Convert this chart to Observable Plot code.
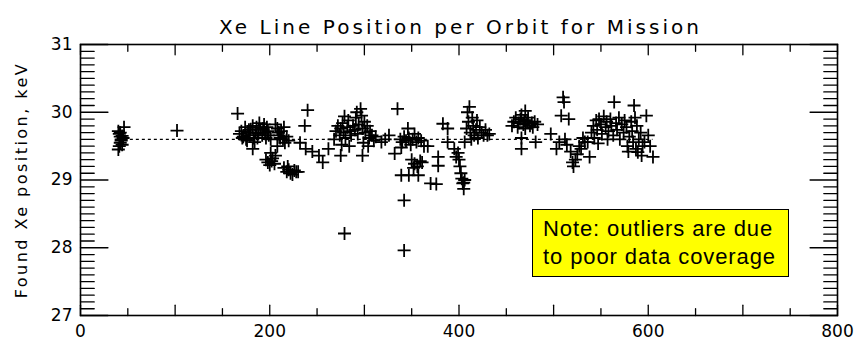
<!DOCTYPE html>
<html>
<head>
<meta charset="utf-8">
<script src="https://cdn.jsdelivr.net/npm/d3@7"></script>
<script src="https://cdn.jsdelivr.net/npm/@observablehq/plot@0.6"></script>
<style>
  body { margin: 0; background: #fff; }
  #wrap { position: relative; width: 858px; height: 343px; }
  #note { position: absolute; left: 532px; top: 209px; width: 257px; height: 68px;
    background: #ffff00; border: 1px solid #000; font-family: "Liberation Sans", Arial, sans-serif;
    font-size: 22px; letter-spacing: 0.9px; line-height: 28.3px; padding: 4.6px 0 0 10px; box-sizing: border-box; color: #000; white-space: nowrap; }
</style>
</head>
<body>
<div id="wrap"><div id="note">Note: outliers are due<br>to poor data coverage</div></div>
<script>
const title = "Xe Line Position per Orbit for Mission";
const yLabel = "Found Xe position, keV";
const xTicks = [0, 200, 400, 600, 800];
const yTicks = [27, 28, 29, 30, 31];
const meanXe = 29.6;

const orbit = [
  40,41,42,43,44,42,45,41,44,43,46,40,42,
  102,
  166,168,170,172,174,175,177,179,180,182,183,185,186,188,189,190,192,193,195,196,198,199,201,176,184,182,171,178,187,194,197,
  206,208,209,210,211,212,214,215,216,218,220,
  196,198,200,202,203,205,206,201,208,
  215,218,220,222,224,226,228,219,230,
  232,240,237,238,245,252,256,262,
  268,270,272,274,275,277,278,280,282,283,285,286,288,290,291,293,294,296,297,298,300,301,303,305,306,308,310,312,276,284,299,292,279,
  275,298,304,318,322,326,
  335,332,338,340,342,344,346,347,349,351,353,355,357,360,363,339,350,353,356,359,352,361,339,347,357,370,367,378,378,383,388,388,395,397,400,401,402,403,404,405,399,406,406,
  408,410,411,412,414,415,416,418,419,420,422,424,426,428,430,413,409,432,
  279,342,342,376,405,
  456,458,460,462,463,465,466,468,469,470,472,473,475,477,478,480,483,470,466,481,466,
  497,503,506,508,510,511,516,512,514,518,520,521,523,525,527,529,531,533,536,538,540,542,543,545,546,548,550,551,553,555,556,558,560,561,563,564,566,567,569,570,572,574,575,577,578,579,580,582,583,585,586,588,589,590,592,593,594,596,598,600,602,605,584,587,557,547
];
const xePos = [
  29.45,29.5,29.55,29.6,29.65,29.7,29.62,29.68,29.52,29.58,29.78,29.72,29.64,
  29.73,
  29.98,29.68,29.72,29.64,29.78,29.6,29.7,29.66,29.75,29.8,29.62,29.7,29.78,29.68,29.84,29.74,29.66,29.76,29.7,29.62,29.72,29.66,29.6,29.58,29.56,29.46,29.62,29.74,29.62,29.82,29.78,
  29.82,29.76,29.7,29.66,29.62,29.72,29.6,29.78,29.55,29.64,29.58,
  29.3,29.26,29.22,29.28,29.32,29.24,29.36,29.4,29.5,
  29.18,29.12,29.15,29.1,29.08,29.14,29.12,29.2,29.12,
  29.55,30.03,29.8,29.46,29.42,29.36,29.26,29.46,
  29.6,29.72,29.8,29.66,29.76,29.84,29.7,29.62,29.78,29.88,29.72,29.66,29.8,29.74,29.92,29.68,29.82,30.05,29.95,29.76,29.86,29.7,29.8,29.62,29.72,29.66,29.58,29.64,29.52,29.5,29.55,30.0,29.94,
  29.36,29.36,29.5,29.56,29.6,29.66,
  30.05,29.39,29.6,29.56,29.64,29.58,29.76,29.62,29.52,29.6,29.68,29.56,29.62,29.58,29.5,29.48,29.3,29.24,29.2,29.28,29.18,29.26,29.07,29.07,29.07,28.95,29.5,29.34,29.21,29.83,29.76,29.56,29.46,29.34,29.3,29.2,29.1,29.02,28.95,28.87,29.4,29.56,29.0,
  29.76,29.86,30.08,29.7,29.92,29.8,29.66,29.74,29.88,29.62,29.78,29.7,29.66,29.74,29.66,29.6,30.0,29.68,
  28.21,27.96,28.70,28.94,28.96,
  29.8,29.86,29.92,29.78,29.84,29.9,29.96,29.82,29.88,29.76,29.86,29.92,29.8,29.84,29.78,29.86,29.82,30.02,29.46,29.56,29.62,
  29.68,29.46,29.56,29.95,30.22,30.15,29.9,29.6,29.52,29.42,29.26,29.2,29.3,29.38,29.5,29.46,29.62,29.56,29.56,29.34,29.7,29.8,29.62,29.88,29.74,29.9,29.82,29.68,29.94,29.78,29.86,29.72,29.9,29.8,29.66,30.15,29.84,29.74,29.92,29.6,29.82,29.7,29.88,29.78,29.5,29.42,29.64,29.86,29.72,30.1,29.92,29.8,29.41,29.6,29.7,29.36,29.5,29.56,29.95,29.66,29.5,29.34,29.56,29.46,29.6,29.54
];

const points = orbit.map((o, i) => ({orbit: o, xe: xePos[i]}));

const plusSymbol = {
  draw(context, size) {
    const r = Math.sqrt(size / Math.PI);
    context.moveTo(-r, 0); context.lineTo(r, 0);
    context.moveTo(0, -r); context.lineTo(0, r);
  }
};
const lineShape = { draw(context, l) { context.moveTo(0, 0); context.lineTo(0, -l); } };

const yMinor = d3.range(27, 31.0001, 0.1).map(v => Math.round(v * 10) / 10);
const xMinor = d3.range(0, 801, 50);
const yLen = v => (Math.abs(v - Math.round(v)) < 1e-6 ? 16 : 8);
const xLen = v => (v % 100 === 0 ? 6 : 4);

const chart = Plot.plot({
  width: 858,
  height: 343,
  marginLeft: 80,
  marginRight: 21,
  marginTop: 44,
  marginBottom: 28,
  style: { fontFamily: "DejaVu Sans", background: "#fff", color: "#000", overflow: "visible" },
  x: { domain: [0, 800] },
  y: { domain: [27, 31] },
  marks: [
    Plot.axisY({ ticks: yTicks, tickSize: 0, tickPadding: 8, fontSize: 17, tickFormat: "d", label: null }),
    Plot.axisX({ ticks: xTicks, tickSize: 0, tickPadding: 9, fontSize: 17, tickFormat: "d", label: null }),
    Plot.vector(yMinor, { y: d => d, frameAnchor: "left", rotate: 90, anchor: "start", length: yLen, shape: lineShape, stroke: "#000", strokeWidth: 1.3 }),
    Plot.vector(yMinor, { y: d => d, frameAnchor: "right", rotate: 270, anchor: "start", length: yLen, shape: lineShape, stroke: "#000", strokeWidth: 1.3 }),
    Plot.vector(xMinor, { x: d => d, frameAnchor: "bottom", rotate: 0, anchor: "start", length: xLen, shape: lineShape, stroke: "#000", strokeWidth: 1.3 }),
    Plot.vector(xMinor, { x: d => d, frameAnchor: "top", rotate: 180, anchor: "start", length: xLen, shape: lineShape, stroke: "#000", strokeWidth: 1.3 }),
    Plot.frame({ stroke: "#000", strokeWidth: 1.6 }),
    Plot.ruleY([meanXe], { x1: d3.min(orbit), x2: d3.max(orbit), stroke: "#000", strokeWidth: 1.4, strokeDasharray: "3,3" }),
    Plot.dot(points, { x: "orbit", y: "xe", symbol: plusSymbol, r: 6.5, stroke: "#000", strokeWidth: 1.8, fill: "none" }),
    Plot.text([title], { frameAnchor: "top", lineAnchor: "top", dy: -25, fontSize: 20, fill: "#000", text: d => d }),
    Plot.text([yLabel], { frameAnchor: "left", textAnchor: "middle", lineAnchor: "middle", dx: -59, rotate: -90, fontSize: 16, fill: "#000", text: d => d })
  ]
});
document.getElementById("wrap").prepend(chart);
d3.select(chart).selectAll("text").each(function () {
  const t = this.textContent;
  if (t === title) d3.select(this).attr("textLength", 480).attr("lengthAdjust", "spacing");
  if (t === yLabel) {
    const len = this.getComputedTextLength();
    const ls = Math.max(0, (234 - len) / (t.length - 1));
    d3.select(this).style("letter-spacing", ls + "px");
  }
});
</script>
</body>
</html>
